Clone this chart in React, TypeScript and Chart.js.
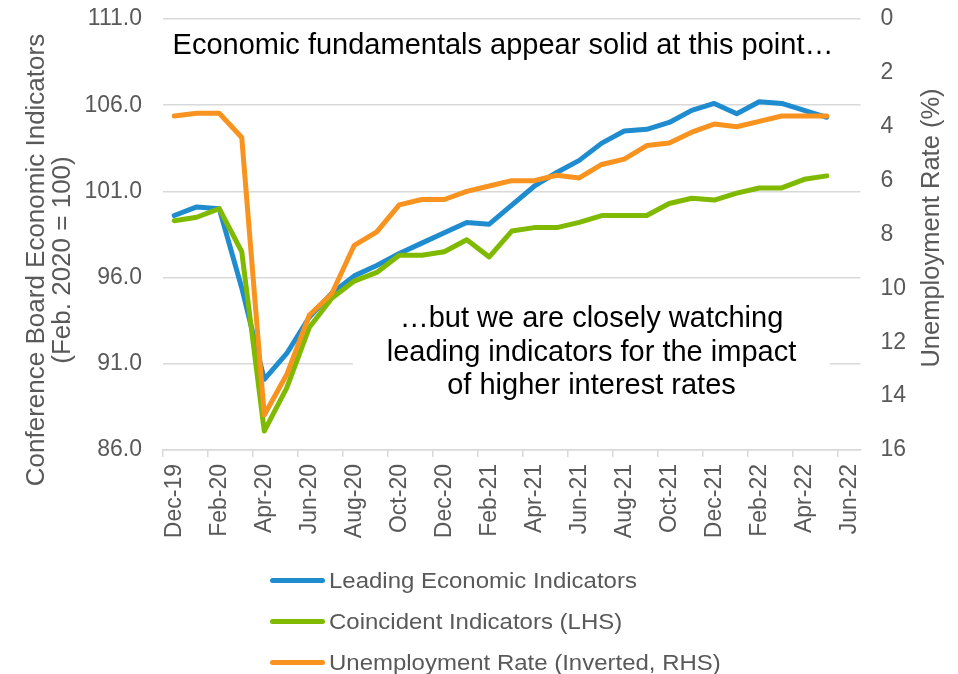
import React, { useEffect, useRef } from "react";
import { Chart, registerables } from "chart.js";

Chart.register(...registerables);

const FONT = '"Liberation Sans", Arial, Helvetica, sans-serif';
const GREY_TEXT = "#595959";
const GRID = "#d9d9d9";
const CLEAR = "rgba(0,0,0,0)";

const months = [
  "Dec-19",
  "Jan-20", "Feb-20", "Mar-20", "Apr-20", "May-20", "Jun-20",
  "Jul-20", "Aug-20", "Sep-20", "Oct-20", "Nov-20", "Dec-20",
  "Jan-21", "Feb-21", "Mar-21", "Apr-21", "May-21", "Jun-21",
  "Jul-21", "Aug-21", "Sep-21", "Oct-21", "Nov-21", "Dec-21",
  "Jan-22", "Feb-22", "Mar-22", "Apr-22", "May-22", "Jun-22",
];

const leading = [
  99.6, 100.1, 100.0, 95.4, 90.1, 91.6, 93.7, 95.1, 96.1, 96.7, 97.4, 98.0,
  98.6, 99.2, 99.1, 100.2, 101.3, 102.1, 102.8, 103.8, 104.5, 104.6, 105.0,
  105.7, 106.1, 105.5, 106.2, 106.1, 105.7, 105.3,
];

const coincident = [
  99.3, 99.5, 100.0, 97.5, 87.1, 89.6, 93.1, 94.8, 95.8, 96.3, 97.3, 97.3,
  97.5, 98.2, 97.2, 98.7, 98.9, 98.9, 99.2, 99.6, 99.6, 99.6, 100.3, 100.6,
  100.5, 100.9, 101.2, 101.2, 101.7, 101.9,
];

const unemployment = [
  3.6, 3.5, 3.5, 4.4, 14.7, 13.2, 11.0, 10.2, 8.4, 7.9, 6.9, 6.7, 6.7, 6.4,
  6.2, 6.0, 6.0, 5.8, 5.9, 5.4, 5.2, 4.7, 4.6, 4.2, 3.9, 4.0, 3.8, 3.6, 3.6,
  3.6,
];

const seriesLabels = [
  "Leading Economic Indicators",
  "Coincident Indicators (LHS)",
  "Unemployment Rate (Inverted, RHS)",
];
const seriesColors = ["#1f8ccf", "#7fba00", "#f7931e"];

const leftRange = { min: 86, max: 111, step: 5 };
const rightRange = { min: 0, max: 16, step: 2 };

const leftTitle = ["Conference Board Economic Indicators", "(Feb. 2020 = 100)"];
const rightTitle = "Unemployment Rate (%)";
const topNote = "Economic fundamentals appear solid at this point\u2026";
const bottomNote = [
  "\u2026but we are closely watching",
  "leading indicators for the impact",
  "of higher interest rates",
];

const overlayPlugin = {
  id: "overlayTexts",
  beforeDatasetsDraw(chart: any) {
    const ctx = chart.ctx as CanvasRenderingContext2D;
    ctx.save();
    // white text box covering the gridline behind the note
    ctx.fillStyle = "#ffffff";
    ctx.fillRect(353, 293, 477, 110);
    ctx.fillStyle = "#000000";
    ctx.font = `29px ${FONT}`;
    ctx.textAlign = "center";
    ctx.textBaseline = "alphabetic";
    ctx.fillText(topNote, 503, 54);
    bottomNote.forEach((t, i) => ctx.fillText(t, 591.5, 327 + i * 33.5));
    ctx.restore();
  },
  afterDraw(chart: any) {
    const ctx = chart.ctx as CanvasRenderingContext2D;
    ctx.save();
    ctx.fillStyle = GREY_TEXT;
    ctx.textAlign = "center";
    ctx.textBaseline = "alphabetic";
    // left axis title (two lines)
    ctx.font = `26px ${FONT}`;
    const leftBase = [43.5, 70];
    leftTitle.forEach((t, i) => {
      ctx.save();
      ctx.translate(leftBase[i], 260);
      ctx.rotate(-Math.PI / 2);
      ctx.fillText(t, 0, 0);
      ctx.restore();
    });
    // right axis title
    ctx.font = `25.5px ${FONT}`;
    ctx.save();
    ctx.translate(938.5, 228);
    ctx.rotate(-Math.PI / 2);
    ctx.fillText(rightTitle, 0, 0);
    ctx.restore();

    // legend (one item per row)
    const datasets = chart.data.datasets;
    datasets.forEach((ds: any, i: number) => {
      const y = 580.5 + i * 41;
      ctx.strokeStyle = ds.borderColor;
      ctx.lineWidth = 5;
      ctx.lineCap = "round";
      ctx.beginPath();
      ctx.moveTo(272.5, y);
      ctx.lineTo(322.5, y);
      ctx.stroke();
      ctx.save();
      ctx.translate(329, y);
      ctx.scale(1.1, 1);
      ctx.font = `21.8px ${FONT}`;
      ctx.fillStyle = GREY_TEXT;
      ctx.textAlign = "left";
      ctx.textBaseline = "middle";
      ctx.fillText(ds.label, 0, 1);
      ctx.restore();
    });
    ctx.restore();
  },
};

export default function App() {
  const canvasRef = useRef<HTMLCanvasElement | null>(null);

  useEffect(() => {
    document.body.style.margin = "0";
    const canvas = canvasRef.current;
    if (!canvas) return;

    const lineStyle = {
      borderWidth: 5,
      pointRadius: 0,
      tension: 0,
      borderJoinStyle: "round",
      borderCapStyle: "round",
    };

    const chart = new Chart(canvas, {
      type: "line",
      data: {
        labels: months,
        datasets: [
          {
            ...lineStyle,
            label: seriesLabels[0],
            data: leading,
            yAxisID: "y",
            borderColor: seriesColors[0],
            backgroundColor: seriesColors[0],
            order: 3,
          },
          {
            ...lineStyle,
            label: seriesLabels[1],
            data: coincident,
            yAxisID: "y",
            borderColor: seriesColors[1],
            backgroundColor: seriesColors[1],
            order: 2,
          },
          {
            ...lineStyle,
            label: seriesLabels[2],
            data: unemployment,
            yAxisID: "y2",
            borderColor: seriesColors[2],
            backgroundColor: seriesColors[2],
            order: 1,
          },
        ],
      },
      options: {
        responsive: false,
        animation: false,
        devicePixelRatio: 1,
        layout: { padding: { top: 19, left: 0, right: 0, bottom: 0 } },
        plugins: {
          legend: { display: false },
          tooltip: { enabled: false },
        },
        scales: {
          x: {
            type: "category",
            offset: true,
            afterFit: (s: any) => {
              s.height = 224;
            },
            grid: {
              offset: true,
              drawOnChartArea: false,
              drawTicks: true,
              tickLength: 7,
              color: (c: any) => (c.index % 2 === 0 ? GRID : CLEAR),
              lineWidth: 1.5,
            },
            border: { display: true, color: GRID, width: 1.5 },
            ticks: {
              autoSkip: false,
              maxRotation: 90,
              minRotation: 90,
              padding: 7,
              color: GREY_TEXT,
              font: { family: FONT, size: 23 },
              callback: function (this: any, _v: any, i: number) {
                return i % 2 === 0 ? months[i] : "";
              },
            },
          },
          y: {
            position: "left",
            min: leftRange.min,
            max: leftRange.max,
            afterFit: (s: any) => {
              s.width = 163;
            },
            grid: {
              color: GRID,
              lineWidth: 1.5,
              drawTicks: true,
              tickLength: 21,
              tickColor: CLEAR,
            },
            border: { display: false },
            ticks: {
              stepSize: leftRange.step,
              padding: 0,
              color: GREY_TEXT,
              font: { family: FONT, size: 23 },
              callback: (v: any) => Number(v).toFixed(1),
            },
          },
          y2: {
            position: "right",
            reverse: true,
            min: rightRange.min,
            max: rightRange.max,
            afterFit: (s: any) => {
              s.width = 97.5;
            },
            grid: {
              display: true,
              drawOnChartArea: false,
              drawTicks: true,
              tickLength: 20,
              color: CLEAR,
              tickColor: CLEAR,
            },
            border: { display: false },
            ticks: {
              stepSize: rightRange.step,
              padding: 0,
              color: GREY_TEXT,
              font: { family: FONT, size: 23 },
            },
          },
        },
      },
      plugins: [overlayPlugin],
    } as any);

    return () => chart.destroy();
  }, []);

  return (
    <div style={{ width: 958, height: 674, background: "#ffffff" }}>
      <canvas ref={canvasRef} width={958} height={674} style={{ display: "block" }} />
    </div>
  );
}
